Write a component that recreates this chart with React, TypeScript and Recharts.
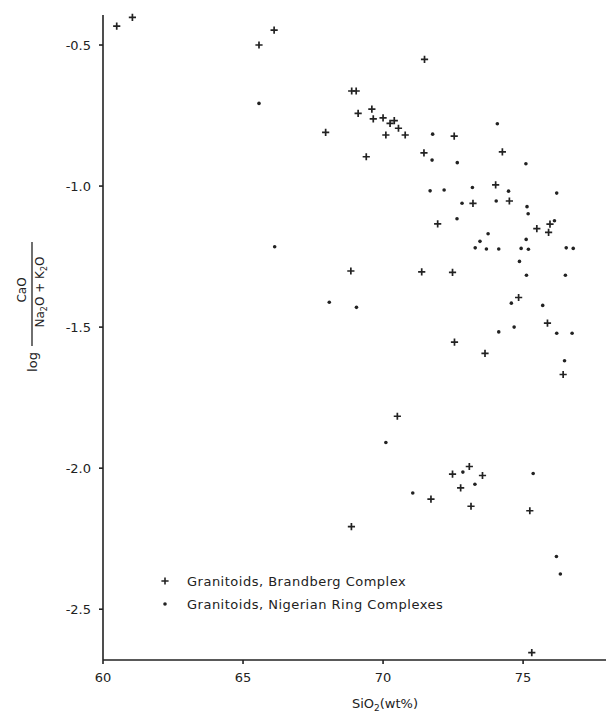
import * as React from "react";
import { ScatterChart, Scatter, XAxis, YAxis, Legend } from "recharts";

// Granitoids, Brandberg Complex (plus markers)
const brandbergSiO2 = [
  60.49, 61.05, 66.11, 65.57, 68.88, 69.04, 69.11, 69.6, 69.65, 70.0, 70.25, 70.4,
  70.55, 70.1, 70.79, 67.95, 69.4, 71.48, 71.46, 72.54, 74.26, 74.02, 73.21, 74.51,
  71.95, 75.49, 75.96, 75.91, 71.38, 72.48, 74.84, 75.87, 72.55, 73.64, 76.43, 68.85,
  70.51, 68.87, 72.48, 73.08, 73.55, 72.77, 71.71, 73.14, 75.24, 75.31,
];
const brandbergLogRatio = [
  -0.433, -0.402, -0.447, -0.5, -0.663, -0.663, -0.742, -0.727, -0.762, -0.758, -0.778, -0.768,
  -0.795, -0.819, -0.819, -0.81, -0.896, -0.551, -0.882, -0.823, -0.879, -0.996, -1.061, -1.053,
  -1.134, -1.151, -1.135, -1.164, -1.304, -1.306, -1.395, -1.486, -1.553, -1.593, -1.668, -1.301,
  -1.816, -2.207, -2.021, -1.994, -2.026, -2.07, -2.11, -2.135, -2.151, -2.654,
];

// Granitoids, Nigerian Ring Complexes (dot markers)
const nigerianSiO2 = [
  65.57, 71.77, 71.75, 72.65, 74.08, 75.1, 71.68, 72.18, 73.19, 74.48, 76.2, 72.82,
  74.04, 75.14, 75.18, 72.64, 76.12, 73.75, 73.46, 73.29, 73.69, 74.13, 74.93, 75.19,
  75.11, 76.54, 76.79, 74.87, 75.12, 76.51, 74.58, 75.7, 74.68, 74.13, 76.2, 76.75,
  76.48, 66.13, 68.08, 69.05, 70.1, 72.85, 73.28, 71.06, 75.36, 76.19, 76.33,
];
const nigerianLogRatio = [
  -0.707, -0.816, -0.908, -0.917, -0.779, -0.921, -1.017, -1.014, -1.005, -1.018, -1.025, -1.061,
  -1.053, -1.073, -1.098, -1.116, -1.123, -1.169, -1.196, -1.219, -1.223, -1.223, -1.221, -1.224,
  -1.189, -1.219, -1.221, -1.267, -1.316, -1.316, -1.415, -1.423, -1.5, -1.517, -1.522, -1.522,
  -1.619, -1.215, -1.412, -1.43, -1.909, -2.014, -2.057, -2.088, -2.019, -2.313, -2.375,
];

const xTicks = [60, 65, 70, 75];
const yTicks = [-2.5, -2.0, -1.5, -1.0, -0.5];
const seriesNames = ["Granitoids, Brandberg Complex", "Granitoids, Nigerian Ring Complexes"];

const brandberg = brandbergSiO2.map((x, i) => ({ x, y: brandbergLogRatio[i] }));
const nigerian = nigerianSiO2.map((x, i) => ({ x, y: nigerianLogRatio[i] }));

const INK = "#222";
const FONT = "'DejaVu Sans', sans-serif";

function PlusMark(props: any) {
  const { cx, cy } = props;
  if (cx == null || cy == null) return null;
  return (
    <path
      d={`M${cx - 3.6},${cy}H${cx + 3.6}M${cx},${cy - 3.6}V${cy + 3.6}`}
      stroke={INK}
      strokeWidth={1.7}
      fill="none"
    />
  );
}

function DotMark(props: any) {
  const { cx, cy } = props;
  if (cx == null || cy == null) return null;
  return <circle cx={cx} cy={cy} r={1.8} fill={INK} />;
}

function LegendBox() {
  return (
    <svg width={330} height={48} style={{ display: "block" }}>
      <path d="M6.4,11H13.6M10,7.4V14.6" stroke={INK} strokeWidth={1.6} />
      <text x={32} y={16} fontSize={13} fontFamily={FONT} fill={INK} letterSpacing={0.5}>
        {seriesNames[0]}
      </text>
      <circle cx={10} cy={34} r={1.8} fill={INK} />
      <text x={32} y={39} fontSize={13} fontFamily={FONT} fill={INK} letterSpacing={0.5}>
        {seriesNames[1]}
      </text>
    </svg>
  );
}

function XTitle() {
  return (
    <text x={385} y={708} textAnchor="middle" fontSize={13} fontFamily={FONT} fill={INK}>
      <tspan>SiO</tspan>
      <tspan fontSize={9} dy={3}>2</tspan>
      <tspan dy={-3}>(wt%)</tspan>
    </text>
  );
}

function YTitle() {
  return (
    <g transform="translate(32,294) rotate(-90)" fontFamily={FONT} fill={INK}>
      <text x={-68} y={5} textAnchor="middle" fontSize={13}>log</text>
      <line x1={-52} y1={0} x2={52} y2={0} stroke={INK} strokeWidth={1.3} />
      <text x={4} y={-6} textAnchor="middle" fontSize={12}>CaO</text>
      <text x={2} y={12} textAnchor="middle" fontSize={12}>
        <tspan>Na</tspan>
        <tspan fontSize={8} dy={3}>2</tspan>
        <tspan dy={-3}>O + K</tspan>
        <tspan fontSize={8} dy={3}>2</tspan>
        <tspan dy={-3}>O</tspan>
      </text>
    </g>
  );
}

export default function App() {
  return (
    <div style={{ position: "absolute", left: 0, top: 0, background: "#fff" }}>
      <ScatterChart width={606} height={717} margin={{ top: 15, right: 0, bottom: 0, left: 0 }}>
        <XAxis
          type="number"
          dataKey="x"
          domain={[60, 77.96]}
          ticks={xTicks}
          height={57}
          stroke={INK}
          strokeWidth={1.6}
          tickSize={4}
          tickMargin={9}
          tick={{ fill: INK, fontSize: 13, fontFamily: FONT }}
          label={{ content: () => <XTitle /> }}
        />
        <YAxis
          type="number"
          dataKey="y"
          domain={[-2.68, -0.3936]}
          ticks={yTicks}
          width={103}
          stroke={INK}
          strokeWidth={1.6}
          tickSize={4}
          tickMargin={8}
          tickFormatter={(v: number) => v.toFixed(1)}
          tick={{ fill: INK, fontSize: 13, fontFamily: FONT }}
          label={{ content: () => <YTitle /> }}
        />
        <Legend
          layout="vertical"
          align="center"
          verticalAlign="middle"
          wrapperStyle={{ left: 155, top: 570, width: 330 }}
          content={() => <LegendBox />}
        />
        <Scatter
          name={seriesNames[0]}
          data={brandberg}
          shape={<PlusMark />}
          isAnimationActive={false}
        />
        <Scatter
          name={seriesNames[1]}
          data={nigerian}
          shape={<DotMark />}
          isAnimationActive={false}
        />
      </ScatterChart>
    </div>
  );
}
